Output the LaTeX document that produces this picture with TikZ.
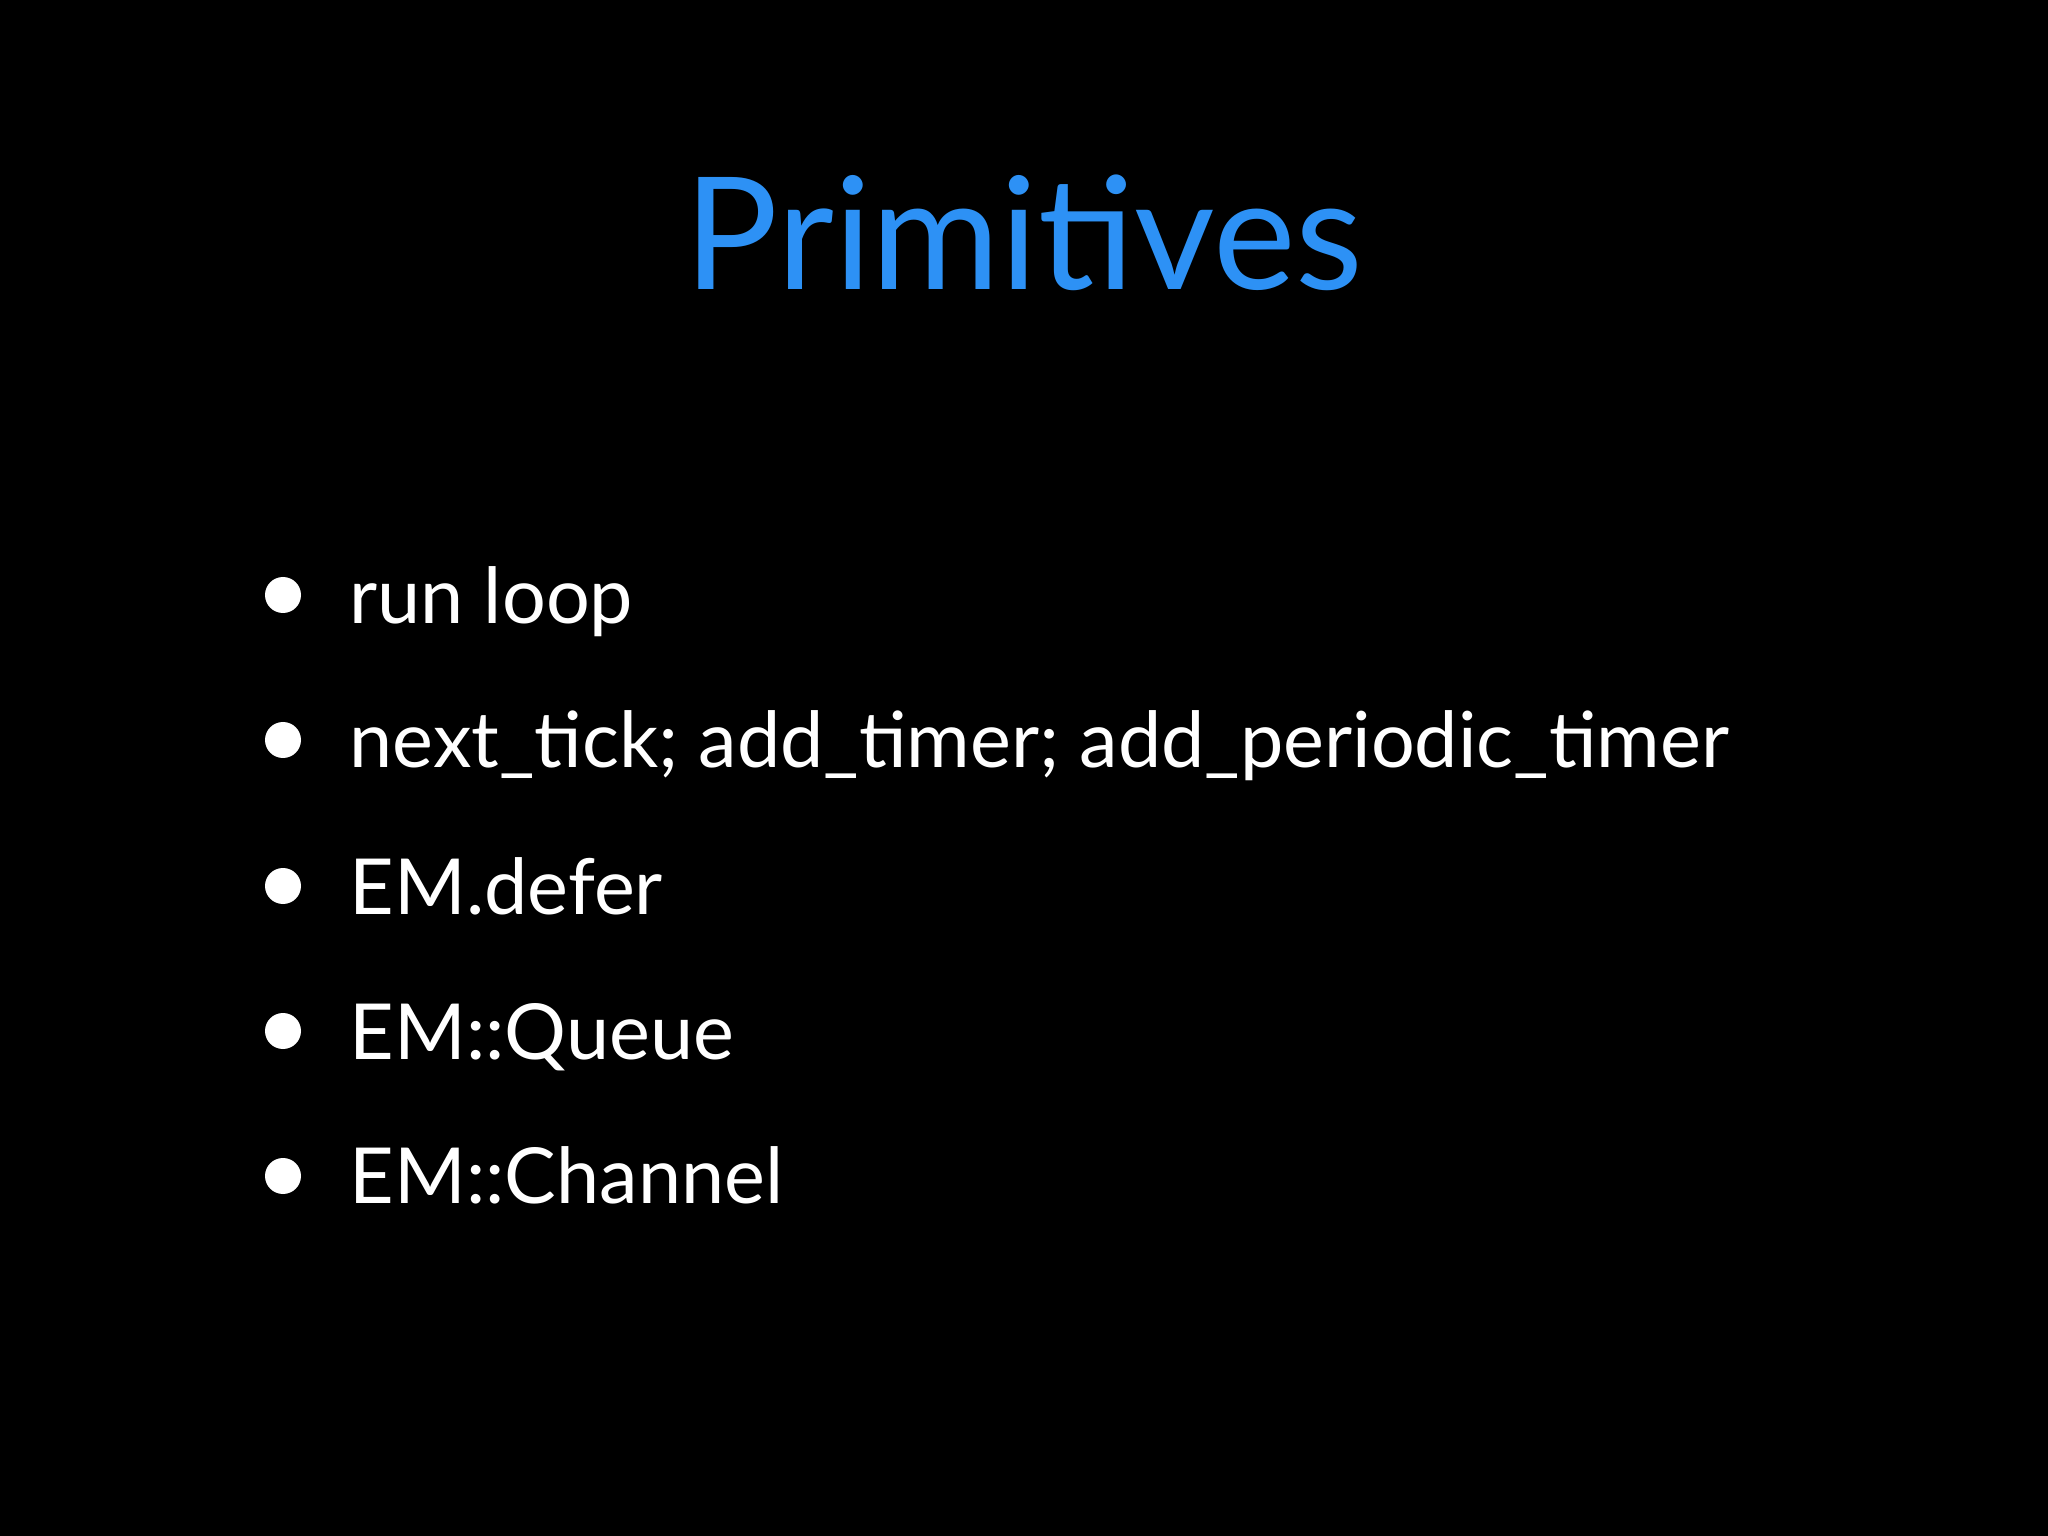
\documentclass[tikz,border=0pt]{standalone}
\usepackage{fontspec}
\setmainfont{Lato}
\begin{document}
\begin{tikzpicture}[x=1cm,y=1cm,
  item/.style={anchor=base west,text=white,font=\fontsize{22}{26}\selectfont,inner sep=0pt},
  dot/.style={circle,fill=white,inner sep=0pt,minimum size=0.36cm}]
\fill[black] (0,0) rectangle (20.48,-15.36);
\useasboundingbox (0,0) rectangle (20.48,-15.36);
\node[anchor=base,text={rgb,255:red,45;green,145;blue,245},font=\fontsize{44.5}{50}\selectfont,inner sep=0pt] (title) at (10.24,-2.9) {Primitives};
\foreach \t/\y/\n in {run loop/6.23/a, {next\_tick; add\_timer; add\_periodic\_timer}/7.68/b, EM.defer/9.14/c, EM::Queue/10.59/d, EM::Channel/12.04/e}{
  \node[item] (\n) at (3.49,-\y) {\t};
  \node[dot] (d\n) at (2.83,-\y+0.28) {};
}
\end{tikzpicture}
\end{document}
